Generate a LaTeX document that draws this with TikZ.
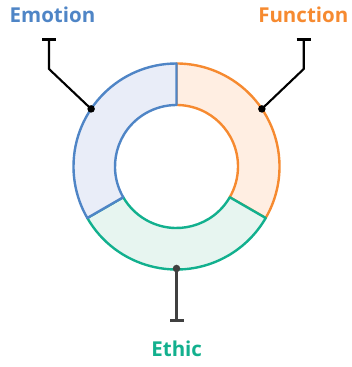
\documentclass[tikz,border=0pt]{standalone}
\usepackage{fontspec}
\setmainfont{Open Sans}
\usetikzlibrary{arrows.meta}
\definecolor{cblue}{HTML}{4F85C6}
\definecolor{corange}{HTML}{F68A30}
\definecolor{cteal}{HTML}{12B08E}
\definecolor{fblue}{HTML}{E9EDF8}
\definecolor{forange}{HTML}{FFEEE2}
\definecolor{fteal}{HTML}{E7F5F0}
\definecolor{cgray}{HTML}{404040}
\newcommand\ringseg[4]{% start, end, fill, draw
  \filldraw[ring, fill=#3, draw=#4] ([shift={(#1:103)}]c) arc[start angle=#1, end angle=#2, radius=103]
    -- ([shift={(#2:61.5)}]c) arc[start angle=#2, end angle=#1, radius=61.5] -- cycle;}
\begin{document}
\begin{tikzpicture}[x=1pt,y=1pt,
  ring/.style={line width=2.4pt, line join=round},
  leader/.style={line width=2.1pt, -{Bar[width=14pt,line width=2.6pt]}},
  dotmark/.style={circle, fill, inner sep=0pt, minimum size=7.5pt},
  lbl/.style={font=\fontsize{20.5}{24}\selectfont\bfseries, anchor=base}]
\useasboundingbox (0,0) rectangle (352,367);
\coordinate (c) at (176.5,200.5);
\ringseg{-30}{90}{forange}{corange}
\ringseg{210}{330}{fteal}{cteal}
\ringseg{90}{210}{fblue}{cblue}
% leader points
\coordinate (edotpt) at ([shift={(146:103)}]c);
\coordinate (eelbow) at (49,298);
\coordinate (eend) at (49,328.5);
\coordinate (fdotpt) at ([shift={(34:103)}]c);
\coordinate (felbow) at (303.7,298);
\coordinate (fend) at (303.7,328.5);
\coordinate (tdotpt) at ([shift={(-90:102)}]c);
\coordinate (tend) at (176.5,45.3);
\draw[leader] (edotpt) -- (eelbow) -- (eend);
\draw[leader] (fdotpt) -- (felbow) -- (fend);
\draw[leader, cgray] (tdotpt) -- (tend);
\node[dotmark] (edot) at (edotpt) {};
\node[dotmark] (fdot) at (fdotpt) {};
\node[dotmark, fill=cgray] (tdot) at (tdotpt) {};
\node[lbl, text=cblue] (emotion) at (52.5,344) {Emotion};
\node[lbl, text=corange] (function) at (303.3,344) {Function};
\node[lbl, text=cteal] (ethic) at (176.7,10) {Ethic};
\end{tikzpicture}
\end{document}
